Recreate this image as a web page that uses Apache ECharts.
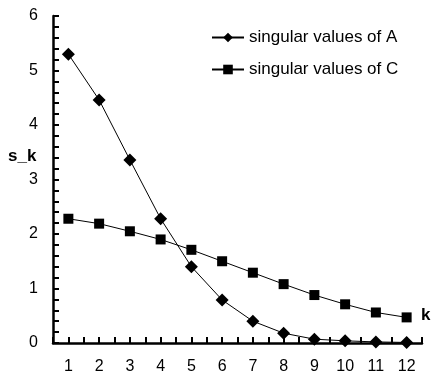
<!DOCTYPE html>
<html>
<head>
<meta charset="utf-8">
<script src="https://cdn.jsdelivr.net/npm/echarts@6/dist/echarts.min.js"></script>
<style>
  html, body { margin: 0; padding: 0; background: #fff; }
  #chart { width: 431px; height: 376px; }
</style>
</head>
<body>
<div id="chart"></div>
<script>
const ks = [1, 2, 3, 4, 5, 6, 7, 8, 9, 10, 11, 12];
const valuesA = [5.30, 4.46, 3.36, 2.28, 1.40, 0.79, 0.40, 0.18, 0.07, 0.04, 0.02, 0.01];
const valuesC = [2.28, 2.19, 2.05, 1.90, 1.71, 1.50, 1.29, 1.08, 0.88, 0.71, 0.56, 0.47];

const font = 'Liberation Sans, Arial, sans-serif';
const ink = '#000';
const chart = echarts.init(document.getElementById('chart'));

chart.setOption({
  animation: false,
  textStyle: { fontFamily: font },
  grid: { left: 53, right: 9, top: 16, bottom: 33 },
  legend: {
    orient: 'vertical',
    left: 206,
    top: 24,
    itemWidth: 32,
    itemHeight: 12,
    itemGap: 15,
    textStyle: { fontSize: 17, color: '#000', fontFamily: font },
    data: ['singular values of A', 'singular values of C']
  },
  xAxis: {
    type: 'value',
    min: 0.5,
    max: 12.5,
    interval: 0.5,
    axisLine: { show: true, onZero: false, lineStyle: { color: ink, width: 2.5 } },
    axisTick: { show: true, inside: true, length: 6, lineStyle: { color: ink, width: 2 } },
    axisLabel: {
      show: true,
      color: '#000', fontSize: 16, margin: 16,
      formatter: v => (Number.isInteger(v) ? String(v) : '')
    },
    splitLine: { show: false }
  },
  yAxis: {
    type: 'value',
    min: 0,
    max: 6,
    interval: 1,
    axisLine: { show: true, lineStyle: { color: ink, width: 2.5 } },
    axisTick: { show: true, inside: true, length: 6, lineStyle: { color: ink, width: 2 } },
    minorTick: { show: true, splitNumber: 5, length: 6, lineStyle: { color: ink, width: 2 } },
    axisLabel: { color: '#000', fontSize: 16, margin: 15 },
    splitLine: { show: false }
  },
  graphic: [
    { type: 'text', left: 8, top: 148, style: { text: 's_k', font: 'bold 17px ' + font, fill: '#000' } },
    { type: 'text', left: 421, top: 307, style: { text: 'k', font: 'bold 17px ' + font, fill: '#000' } }
  ],
  series: [
    {
      name: 'singular values of A',
      type: 'line',
      data: ks.map((k, i) => [k, valuesA[i]]),
      symbol: 'diamond',
      symbolSize: 13,
      itemStyle: { color: '#000' },
      lineStyle: { color: '#000', width: 1 }
    },
    {
      name: 'singular values of C',
      type: 'line',
      data: ks.map((k, i) => [k, valuesC[i]]),
      symbol: 'rect',
      symbolSize: 10,
      itemStyle: { color: '#000' },
      lineStyle: { color: '#000', width: 1 }
    }
  ]
});
</script>
</body>
</html>
